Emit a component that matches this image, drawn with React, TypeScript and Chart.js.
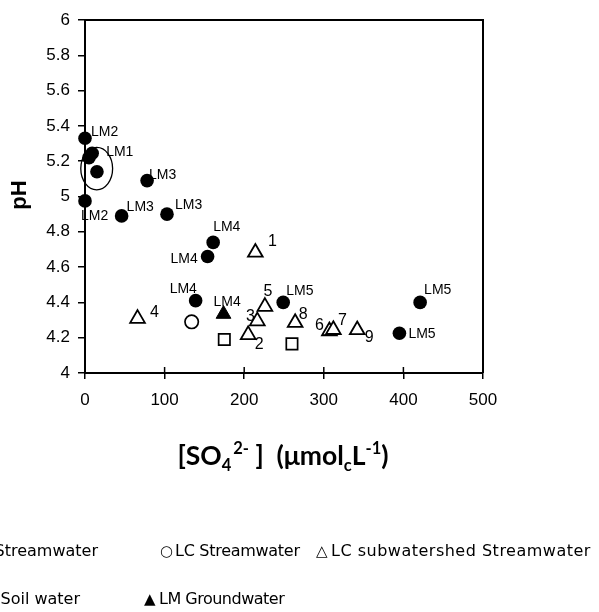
import React, { useEffect, useRef } from 'react';
import { Chart, registerables } from 'chart.js';

Chart.register(...registerables);

// LM streamwater (filled circles)
const lmStreamSO4 = [0, 9, 5, 15, 78, 0, 46, 103, 161, 154, 139, 249, 421, 395];
const lmStreamPH = [5.33, 5.245, 5.22, 5.14, 5.09, 4.975, 4.89, 4.9, 4.74, 4.66, 4.41, 4.4, 4.4, 4.225];
const lmStreamSites = ['LM2', 'LM1', '', '', 'LM3', 'LM2', 'LM3', 'LM3', 'LM4', 'LM4', 'LM4', 'LM5', 'LM5', 'LM5'];

// Soil water (open squares)
const soilSO4 = [175, 260];
const soilPH = [4.19, 4.165];

// LC streamwater (open circle)
const lcStreamSO4 = [134];
const lcStreamPH = [4.29];

// LC subwatershed streamwater (open triangles)
const subSO4 = [214, 205, 216.5, 66, 226, 307, 312, 264, 342];
const subPH = [4.683, 4.216, 4.294, 4.308, 4.376, 4.238, 4.245, 4.285, 4.244];
const subSites = ['1', '2', '3', '4', '5', '6', '7', '8', '9'];

// LM groundwater (filled triangle)
const lmGroundSO4 = [174];
const lmGroundPH = [4.334];
const lmGroundSites = ['LM4'];

// Axis ticks
const xTickValues = [0, 100, 200, 300, 400, 500];
const yTickValues = [4, 4.2, 4.4, 4.6, 4.8, 5, 5.2, 5.4, 5.6, 5.8, 6];

// Circled LM1 group: centre and half-axes in data units
const groupCentre = [14.7, 5.158];
const groupHalfAxes = [20, 0.12];

// Legend entries
const legendRow1 = [
  { sym: '●', text: 'LM Streamwater' },
  { sym: '○', text: 'LC Streamwater' },
  { sym: '△', text: 'LC subwatershed Streamwater' },
];
const legendRow2 = [
  { sym: '□', text: 'LM Soil water' },
  { sym: '▲', text: 'LM Groundwater' },
];

// Pixel offsets of the point labels (dx, dy from the marker centre)
const lmStreamLabelOffsets = [
  [6, -6], [14, -1], [0, 0], [0, 0], [2, -5], [-4, 15], [5, -9], [8, -9],
  [0, -15], [-37, 3], [-26, -11], [3, -11], [4, -12], [9, 1],
];
const subLabelOffsets = [
  [17, -11], [11, 10], [-7, -5], [17, -6], [3, -15], [-10, -5], [9, -9], [8, -8], [12, 8],
];
const lmGroundLabelOffsets = [[-10, -12]];

const SANS = '"Liberation Sans", Arial, sans-serif';

const toPoints = (xs: number[], ys: number[]) => xs.map((x, i) => ({ x, y: ys[i] }));

const annotations = {
  id: 'annotations',
  afterDatasetsDraw(chart: any) {
    const ctx = chart.ctx as CanvasRenderingContext2D;
    const { left, right, top, bottom } = chart.chartArea;
    const xs = chart.scales.x;
    const ys = chart.scales.y;
    ctx.save();

    // frame: top and right edges
    ctx.strokeStyle = '#000';
    ctx.lineWidth = 2;
    ctx.beginPath();
    ctx.moveTo(left, top);
    ctx.lineTo(right, top);
    ctx.lineTo(right, bottom);
    ctx.stroke();

    // inner half of the x tick marks
    ctx.lineWidth = 1.5;
    xTickValues.forEach((v) => {
      const px = xs.getPixelForValue(v);
      ctx.beginPath();
      ctx.moveTo(px, bottom);
      ctx.lineTo(px, bottom - 6);
      ctx.stroke();
    });

    // ellipse around the LM1 group
    const cx = xs.getPixelForValue(groupCentre[0]);
    const cy = ys.getPixelForValue(groupCentre[1]);
    const rx = Math.abs(xs.getPixelForValue(groupCentre[0] + groupHalfAxes[0]) - cx);
    const ry = Math.abs(ys.getPixelForValue(groupCentre[1] + groupHalfAxes[1]) - cy);
    ctx.lineWidth = 1.3;
    ctx.beginPath();
    ctx.ellipse(cx, cy, rx, ry, 0, 0, Math.PI * 2);
    ctx.stroke();

    // point labels
    ctx.fillStyle = '#000';
    ctx.textAlign = 'left';
    ctx.textBaseline = 'middle';
    const drawLabels = (dsIndex: number, labels: string[], offs: number[][], font: string) => {
      ctx.font = font;
      const meta = chart.getDatasetMeta(dsIndex);
      labels.forEach((lab, i) => {
        if (!lab) return;
        const el = meta.data[i];
        ctx.fillText(lab, el.x + offs[i][0], el.y + offs[i][1]);
      });
    };
    drawLabels(0, lmStreamSites, lmStreamLabelOffsets, `14px ${SANS}`);
    drawLabels(4, lmGroundSites, lmGroundLabelOffsets, `14px ${SANS}`);
    ctx.textAlign = 'center';
    drawLabels(3, subSites, subLabelOffsets, `16px ${SANS}`);

    // y-axis title
    ctx.save();
    ctx.translate(20, 195);
    ctx.rotate(-Math.PI / 2);
    ctx.font = `bold 22px ${SANS}`;
    ctx.textAlign = 'center';
    ctx.textBaseline = 'middle';
    ctx.fillText('pH', 0, 0);
    ctx.restore();

    // x-axis title with sub/superscripts
    const TITLE = 'Lato, "Open Sans", sans-serif';
    const parts = [
      { t: '[SO', k: 'n' }, { t: '4', k: 'sub' }, { t: '2-', k: 'sup' },
      { t: ' ]  (μmol', k: 'n' }, { t: 'c', k: 'sub' }, { t: 'L', k: 'n' },
      { t: '-1', k: 'sup' }, { t: ')', k: 'n' },
    ];
    const fontFor = (k: string) => (k === 'n' ? `bold 26.5px ${TITLE}` : `bold 16.5px ${TITLE}`);
    const gapFor = (k: string, prev: string) => (k === 'sup' && prev === 'sub' ? 2 : 0);
    let total = 0;
    parts.forEach((p, i) => {
      ctx.font = fontFor(p.k);
      total += ctx.measureText(p.t).width + gapFor(p.k, i ? parts[i - 1].k : '');
    });
    let x = 283 - total / 2;
    const base = 465;
    ctx.textAlign = 'left';
    ctx.textBaseline = 'alphabetic';
    parts.forEach((p, i) => {
      ctx.font = fontFor(p.k);
      x += gapFor(p.k, i ? parts[i - 1].k : '');
      const dy = p.k === 'sub' ? 5.5 : p.k === 'sup' ? -11 : 0;
      ctx.fillText(p.t, x, base + dy);
      x += ctx.measureText(p.t).width;
    });

    // legend: symbol glyph followed by its text, with a slight tracking
    // adjustment (at most half a pixel) towards the column width
    const LEG = '"DejaVu Sans", sans-serif';
    const TEXT_FONT = `16px ${LEG}`;
    const SYM_FONT = `15px ${LEG}`;
    const c = ctx as any;
    const drawEntry = (
      e: { sym: string; text: string },
      symX: number,
      textX: number,
      textEnd: number,
      yMid: number,
    ) => {
      ctx.textBaseline = 'middle';
      ctx.textAlign = 'left';
      ctx.font = TEXT_FONT;
      c.letterSpacing = '0px';
      const natural = ctx.measureText(e.text).width;
      let spacing = (textEnd - textX - natural) / Math.max(1, e.text.length - 1);
      spacing = Math.max(-0.5, Math.min(0.5, spacing));
      c.letterSpacing = `${spacing.toFixed(2)}px`;
      ctx.fillText(e.text, textX, yMid);
      c.letterSpacing = '0px';
      ctx.font = SYM_FONT;
      ctx.fillText(e.sym, symX, yMid);
    };
    const rightAligned = (e: { sym: string; text: string }, textEnd: number, yMid: number) => {
      ctx.font = TEXT_FONT;
      c.letterSpacing = '0px';
      const w = ctx.measureText(e.text).width;
      drawEntry(e, textEnd - w - 15, textEnd - w, textEnd, yMid);
    };
    rightAligned(legendRow1[0], 98, 552);
    drawEntry(legendRow1[1], 160, 175, 300, 552);
    drawEntry(legendRow1[2], 316, 331, 594, 552);
    rightAligned(legendRow2[0], 80, 600);
    drawEntry(legendRow2[1], 144, 159, 273, 600);

    ctx.restore();
  },
};

export default function App() {
  const canvasRef = useRef<HTMLCanvasElement | null>(null);

  useEffect(() => {
    const canvas = canvasRef.current;
    if (!canvas) return;
    const chart = new Chart(canvas, {
      type: 'scatter',
      data: {
        datasets: [
          {
            label: 'LM Streamwater',
            data: toPoints(lmStreamSO4, lmStreamPH),
            pointStyle: 'circle',
            pointRadius: 6.8,
            backgroundColor: '#000',
            borderColor: '#000',
            borderWidth: 0,
            clip: false,
          },
          {
            label: 'LM Soil water',
            data: toPoints(soilSO4, soilPH),
            pointStyle: 'rect',
            pointRadius: 8,
            backgroundColor: '#fff',
            borderColor: '#000',
            borderWidth: 1.7,
            clip: false,
          },
          {
            label: 'LC Streamwater',
            data: toPoints(lcStreamSO4, lcStreamPH),
            pointStyle: 'circle',
            pointRadius: 6.7,
            backgroundColor: '#fff',
            borderColor: '#000',
            borderWidth: 1.7,
            clip: false,
          },
          {
            label: 'LC subwatershed Streamwater',
            data: toPoints(subSO4, subPH),
            pointStyle: 'triangle',
            pointRadius: 8.5,
            backgroundColor: '#fff',
            borderColor: '#000',
            borderWidth: 1.8,
            clip: false,
          },
          {
            label: 'LM Groundwater',
            data: toPoints(lmGroundSO4, lmGroundPH),
            pointStyle: 'triangle',
            pointRadius: 8.5,
            backgroundColor: '#000',
            borderColor: '#000',
            borderWidth: 1,
            clip: false,
          },
        ],
      },
      options: {
        responsive: false,
        animation: false,
        events: [],
        layout: { padding: { left: 0, top: 20, right: 116, bottom: 0 } },
        plugins: { legend: { display: false }, tooltip: { enabled: false } },
        scales: {
          x: {
            type: 'linear',
            min: 0,
            max: 500,
            afterBuildTicks: (s: any) => {
              s.ticks = xTickValues.map((value) => ({ value }));
            },
            afterFit: (s: any) => {
              s.height = 239;
            },
            ticks: {
              color: '#000',
              font: { family: SANS, size: 17 },
              padding: 11,
              callback: (v: any) => String(v),
            },
            grid: { drawOnChartArea: false, drawTicks: true, tickLength: 6, color: '#000', lineWidth: 1.5 },
            border: { display: true, color: '#000', width: 2 },
          },
          y: {
            type: 'linear',
            min: 4,
            max: 6,
            afterBuildTicks: (s: any) => {
              s.ticks = yTickValues.map((value) => ({ value }));
            },
            afterFit: (s: any) => {
              s.width = 85;
            },
            ticks: {
              color: '#000',
              font: { family: SANS, size: 17 },
              padding: 8,
              callback: (v: any) => String(Number(Number(v).toFixed(1))),
            },
            grid: { drawOnChartArea: false, drawTicks: true, tickLength: 7, color: '#000', lineWidth: 1.5 },
            border: { display: true, color: '#000', width: 2 },
          },
        },
      },
      plugins: [annotations],
    } as any);
    return () => chart.destroy();
  }, []);

  return (
    <div style={{ position: 'fixed', left: 0, top: 0, width: 599, height: 612, background: '#fff' }}>
      <canvas ref={canvasRef} width={599} height={612} style={{ display: 'block' }} />
    </div>
  );
}
